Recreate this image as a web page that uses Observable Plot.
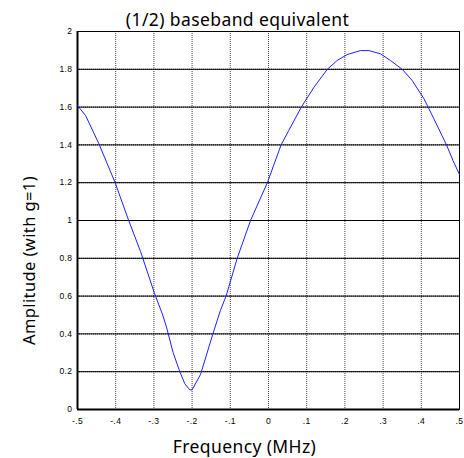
<!DOCTYPE html>
<html>
<head>
<meta charset="utf-8">
<script src="https://cdn.jsdelivr.net/npm/d3@7"></script>
<script src="https://cdn.jsdelivr.net/npm/@observablehq/plot@0.6"></script>
<style>
  html, body { margin: 0; padding: 0; background: #fff; }
  #chart { width: 464px; height: 458px; }
</style>
</head>
<body>
<div id="chart"></div>
<script>
// Data
const freq = [-0.5, -0.479, -0.444, -0.402, -0.366, -0.335, -0.298, -0.278, -0.267, -0.25, -0.232, -0.219, -0.206, -0.2, -0.178, -0.146, -0.126, -0.111, -0.082, -0.047, -0.003, 0.033, 0.053, 0.086, 0.119, 0.154, 0.180, 0.206, 0.241, 0.263, 0.293, 0.319, 0.35, 0.376, 0.407, 0.433, 0.466, 0.483, 0.5];
const amp  = [1.608, 1.556, 1.406, 1.203, 1.0, 0.836, 0.612, 0.506, 0.436, 0.303, 0.199, 0.136, 0.104, 0.104, 0.185, 0.397, 0.524, 0.6, 0.8, 1.0, 1.2, 1.4, 1.476, 1.6, 1.705, 1.80, 1.847, 1.878, 1.899, 1.899, 1.882, 1.847, 1.80, 1.741, 1.644, 1.538, 1.40, 1.317, 1.243];
const xTicks = [-0.5, -0.4, -0.3, -0.2, -0.1, 0, 0.1, 0.2, 0.3, 0.4, 0.5];
const yTicks = [0, 0.2, 0.4, 0.6, 0.8, 1, 1.2, 1.4, 1.6, 1.8, 2];
const titleText = "(1/2) baseband equivalent";
const xLabel = "Frequency (MHz)";
const yLabel = "Amplitude (with g=1)";

const data = freq.map((f, i) => ({f, a: amp[i]}));
const fmtX = d => d === 0 ? "0" : d.toFixed(1).replace(/^(-?)0\./, "$1.");
const fmtY = d => String(+d.toFixed(1));

const labelFont = "'Noto Sans', 'Open Sans', sans-serif";

const chart = Plot.plot({
  width: 464,
  height: 458,
  marginLeft: 77,
  marginRight: 5,
  marginTop: 31,
  marginBottom: 49,
  style: {fontFamily: "'Liberation Sans', Arial, sans-serif", fontSize: "8.5px", color: "#000", background: "#fff", letterSpacing: "0.4px"},
  x: {domain: [-0.5, 0.5], ticks: xTicks, tickFormat: fmtX, tickSize: 0, tickPadding: 8, label: null},
  y: {domain: [0, 2], ticks: yTicks, tickFormat: fmtY, tickSize: 0, tickPadding: 5, label: null},
  marks: [
    Plot.gridX(xTicks, {stroke: "#000", strokeOpacity: 0.75, strokeDasharray: "1,1"}),
    Plot.gridY(yTicks, {stroke: "#000", strokeOpacity: 0.85, strokeDasharray: "1,1"}),
    Plot.frame({stroke: "#000", strokeWidth: 1}),
    Plot.ruleX([-0.5], {stroke: "#000", strokeWidth: 2}),
    Plot.ruleY([0], {stroke: "#000", strokeWidth: 2}),
    Plot.tickY(yTicks, {y: d => d, x1: 0.49, x2: 0.5, stroke: "#000"}),
    Plot.line(data, {x: "f", y: "a", stroke: "#1f1fff", strokeWidth: 1}),
    Plot.text([titleText], {frameAnchor: "top", textAnchor: "middle", lineAnchor: "bottom", dx: -31, dy: -6, fontSize: 17.5, letterSpacing: "0px", fontFamily: labelFont, fill: "#000"}),
    Plot.text([xLabel], {frameAnchor: "bottom", textAnchor: "middle", lineAnchor: "bottom", dx: -24, dy: 43, fontSize: 17.5, letterSpacing: "0px", fontFamily: labelFont, fill: "#000"}),
    Plot.text([yLabel], {frameAnchor: "left", textAnchor: "middle", lineAnchor: "bottom", rotate: -90, dx: -43, dy: 40, fontSize: 16.5, letterSpacing: "0px", fontFamily: labelFont, fill: "#000"})
  ]
});
document.getElementById("chart").appendChild(chart);
</script>
</body>
</html>
